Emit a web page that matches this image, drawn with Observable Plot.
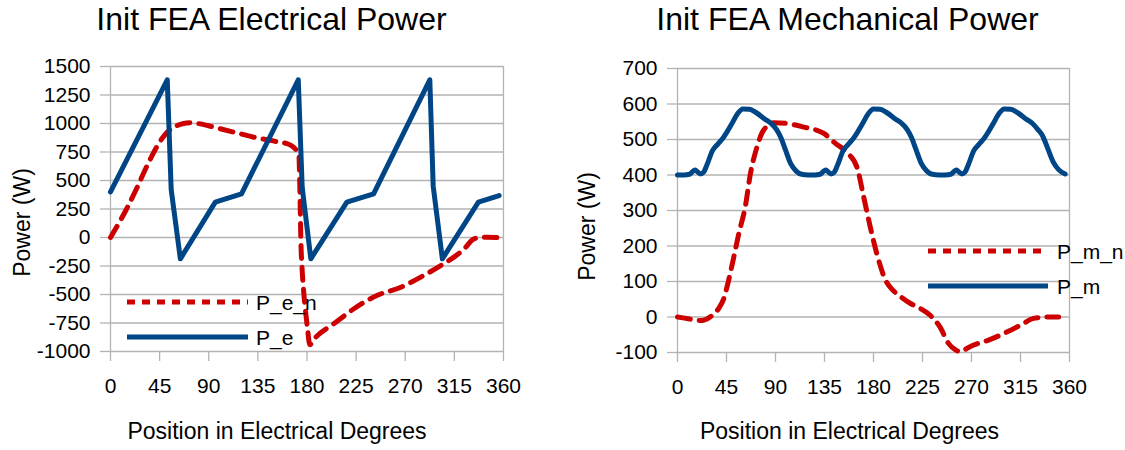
<!DOCTYPE html>
<html><head><meta charset="utf-8">
<script src="https://cdn.jsdelivr.net/npm/d3@7"></script>
<script src="https://cdn.jsdelivr.net/npm/@observablehq/plot@0.6"></script>
<style>
body{margin:0;background:#fff}
#wrap{display:flex;width:1125px;height:450px;overflow:hidden}
</style>
</head><body><div id="wrap"></div>
<script>
const FONT = "Liberation Sans, Arial, Helvetica, sans-serif";
const RED = "#cc0000", BLUE = "#004586", GRID = "#b3b3b3";

// ---- tick labels ----
const xTicks = [0, 45, 90, 135, 180, 225, 270, 315, 360];
const yTicksE = [-1000, -750, -500, -250, 0, 250, 500, 750, 1000, 1250, 1500];
const yTicksM = [-100, 0, 100, 200, 300, 400, 500, 600, 700];

// ---- Electrical chart series ----
const peDeg = [0, 52, 55.6, 64, 96, 120, 172, 175.6, 183.5, 216.5, 241, 292.5, 295.6, 304, 337, 356];
const peVal = [400, 1383, 420, -187, 310, 383, 1383, 440, -187, 310, 383, 1383, 450, -187, 310, 368];

const penDeg = [0, 7, 14, 24.5, 35, 47, 55, 61, 67, 73, 80, 89, 100, 113, 124, 134, 144, 155, 162, 166.5, 170, 172.5, 173.5, 174.4, 175.6, 177, 178.6, 180.5, 182.5, 188, 204.5, 223, 244, 266, 287, 305, 315, 324, 333, 340, 345, 354];
const penVal = [0, 115, 237, 441, 660, 866, 950, 982, 1000, 1006, 1000, 982, 955, 924, 898, 874, 857, 835, 822, 800, 770, 737, 410, -30, -290, -480, -640, -800, -940, -875, -757, -625, -509, -436, -333, -231, -170, -99, -11, 0, 3, 0];

// ---- Mechanical chart series ----
const pmDeg = [0, 6, 11, 14, 16, 18, 21, 24, 27, 32, 37, 42, 50, 55, 60, 66, 72, 80, 86, 91, 95, 99, 104, 109, 114, 120, 126, 131, 134, 136, 138, 141, 144, 147, 152, 157, 162, 170, 175, 180, 186, 192, 200, 206, 211, 215, 219, 224, 229, 234, 240, 246, 251, 254, 256, 258, 261, 264, 267, 272, 277, 282, 290, 295, 300, 306, 312, 320, 326, 331, 335, 340, 345, 350, 356];
const pmVal = [400, 400, 402, 410, 414, 410, 403, 408, 428, 468, 487, 505, 545, 572, 586, 585, 576, 558, 545, 528, 505, 472, 432, 411, 402, 400, 400, 402, 410, 414, 410, 403, 408, 428, 468, 487, 505, 545, 572, 586, 585, 576, 558, 545, 528, 505, 472, 432, 411, 402, 400, 400, 402, 410, 414, 410, 403, 408, 428, 468, 487, 505, 545, 572, 586, 585, 576, 558, 545, 528, 512, 475, 437, 415, 403];

const pmnDeg = [0, 10, 20, 24, 32, 38, 42.5, 47, 51.7, 56.3, 62.2, 67, 73, 79, 88.4, 100.7, 116, 134.4, 145, 155.8, 165, 171, 177, 183, 191, 198, 205, 214, 223, 232, 241, 249, 255, 260, 266, 272, 284, 300, 315, 327, 340, 350];
const pmnVal = [0, -5, -10, -9, 5, 25, 52, 104, 169, 235, 310, 404, 479, 526, 547, 545, 535, 517, 489, 463, 420, 338, 254, 179, 104, 75, 57, 38, 24, 5, -28, -75, -92, -98, -88, -79, -67, -46, -23, -4, 0, 0];

const toRows = (xs, ys) => xs.map((x, i) => ({x, y: ys[i]}));
const plain = d => String(d);

function legendMark(items) {
  return () => {
    const g = d3.create("svg:g");
    for (const it of items) {
      g.append("line")
        .attr("x1", it.x1).attr("x2", it.x2).attr("y1", it.y).attr("y2", it.y)
        .attr("stroke", it.color).attr("stroke-width", 5)
        .attr("stroke-dasharray", it.dash || null);
      g.append("text")
        .attr("x", it.tx).attr("y", it.y).attr("dy", "0.36em")
        .attr("text-anchor", "start")
        .attr("font-size", 21).attr("font-family", FONT).attr("fill", "#000")
        .text(it.label);
    }
    return g.node();
  };
}

function chart(c) {
  return Plot.plot({
    width: c.width, height: 450,
    marginLeft: c.ml, marginRight: c.mr, marginTop: c.mt, marginBottom: c.mb,
    x: {domain: [0, 360]},
    y: {domain: c.yDomain},
    style: {fontFamily: FONT, fontSize: "21px", color: "#000", background: "#fff", overflow: "visible"},
    marks: [
      Plot.ruleY(c.yTicks, {stroke: GRID, strokeWidth: 1.3}),
      Plot.ruleX([0, 360], {stroke: GRID, strokeWidth: 1.3}),
      Plot.axisY(c.yTicks, {tickSize: 10, tickPadding: 10, stroke: GRID, strokeWidth: 1.3, fill: "#000", fontSize: 21, fontFamily: FONT, label: null, tickFormat: plain}),
      Plot.axisX(xTicks, {tickSize: 10, tickPadding: 17, stroke: GRID, strokeWidth: 1.3, fill: "#000", fontSize: 21, fontFamily: FONT, label: null, tickFormat: plain}),
      Plot.line(c.dashed, {x: "x", y: "y", stroke: RED, strokeWidth: 5, strokeDasharray: "13,9", curve: "monotone-x"}),
      Plot.line(c.solid, {x: "x", y: "y", stroke: BLUE, strokeWidth: 5, strokeLinejoin: "round", curve: c.solidCurve}),
      Plot.text([c.title], {frameAnchor: "top", lineAnchor: "middle", textAnchor: "middle", dx: c.tdx, dy: c.tdy, fontSize: 32, fill: "#000"}),
      Plot.text(["Position in Electrical Degrees"], {frameAnchor: "bottom", lineAnchor: "middle", textAnchor: "middle", dx: c.xdx, dy: c.xdy, fontSize: 23, fill: "#000"}),
      Plot.text(["Power (W)"], {frameAnchor: "left", lineAnchor: "middle", textAnchor: "middle", rotate: -90, dx: c.ydx, dy: c.ydy, fontSize: 23, fill: "#000"}),
      legendMark(c.legend)
    ]
  });
}

const left = chart({
  width: 562, ml: 110, mr: 59, mt: 66, mb: 99,
  yDomain: [-1000, 1500], yTicks: yTicksE,
  dashed: toRows(penDeg, penVal), solid: toRows(peDeg, peVal), solidCurve: "linear",
  title: "Init FEA Electrical Power", tdx: -35.5, tdy: -47,
  xdx: -30, xdy: 80, ydx: -87.5, ydy: 13.5,
  legend: [
    {x1: 127, x2: 248, y: 302, tx: 256, color: RED, dash: "8,7", label: "P_e_n"},
    {x1: 127, x2: 248, y: 337, tx: 256, color: BLUE, label: "P_e"}
  ]
});

const right = chart({
  width: 563, ml: 115, mr: 56, mt: 68, mb: 98,
  yDomain: [-100, 700], yTicks: yTicksM,
  dashed: toRows(pmnDeg, pmnVal), solid: toRows(pmDeg, pmVal), solidCurve: "monotone-x",
  title: "Init FEA Mechanical Power", tdx: -26, tdy: -49,
  xdx: -24, xdy: 79, ydx: -89.5, ydy: 16,
  legend: [
    {x1: 366, x2: 486, y: 251, tx: 495, color: RED, dash: "8,7", label: "P_m_n"},
    {x1: 366, x2: 486, y: 286, tx: 495, color: BLUE, label: "P_m"}
  ]
});

document.getElementById("wrap").append(left, right);
</script>
</body></html>
